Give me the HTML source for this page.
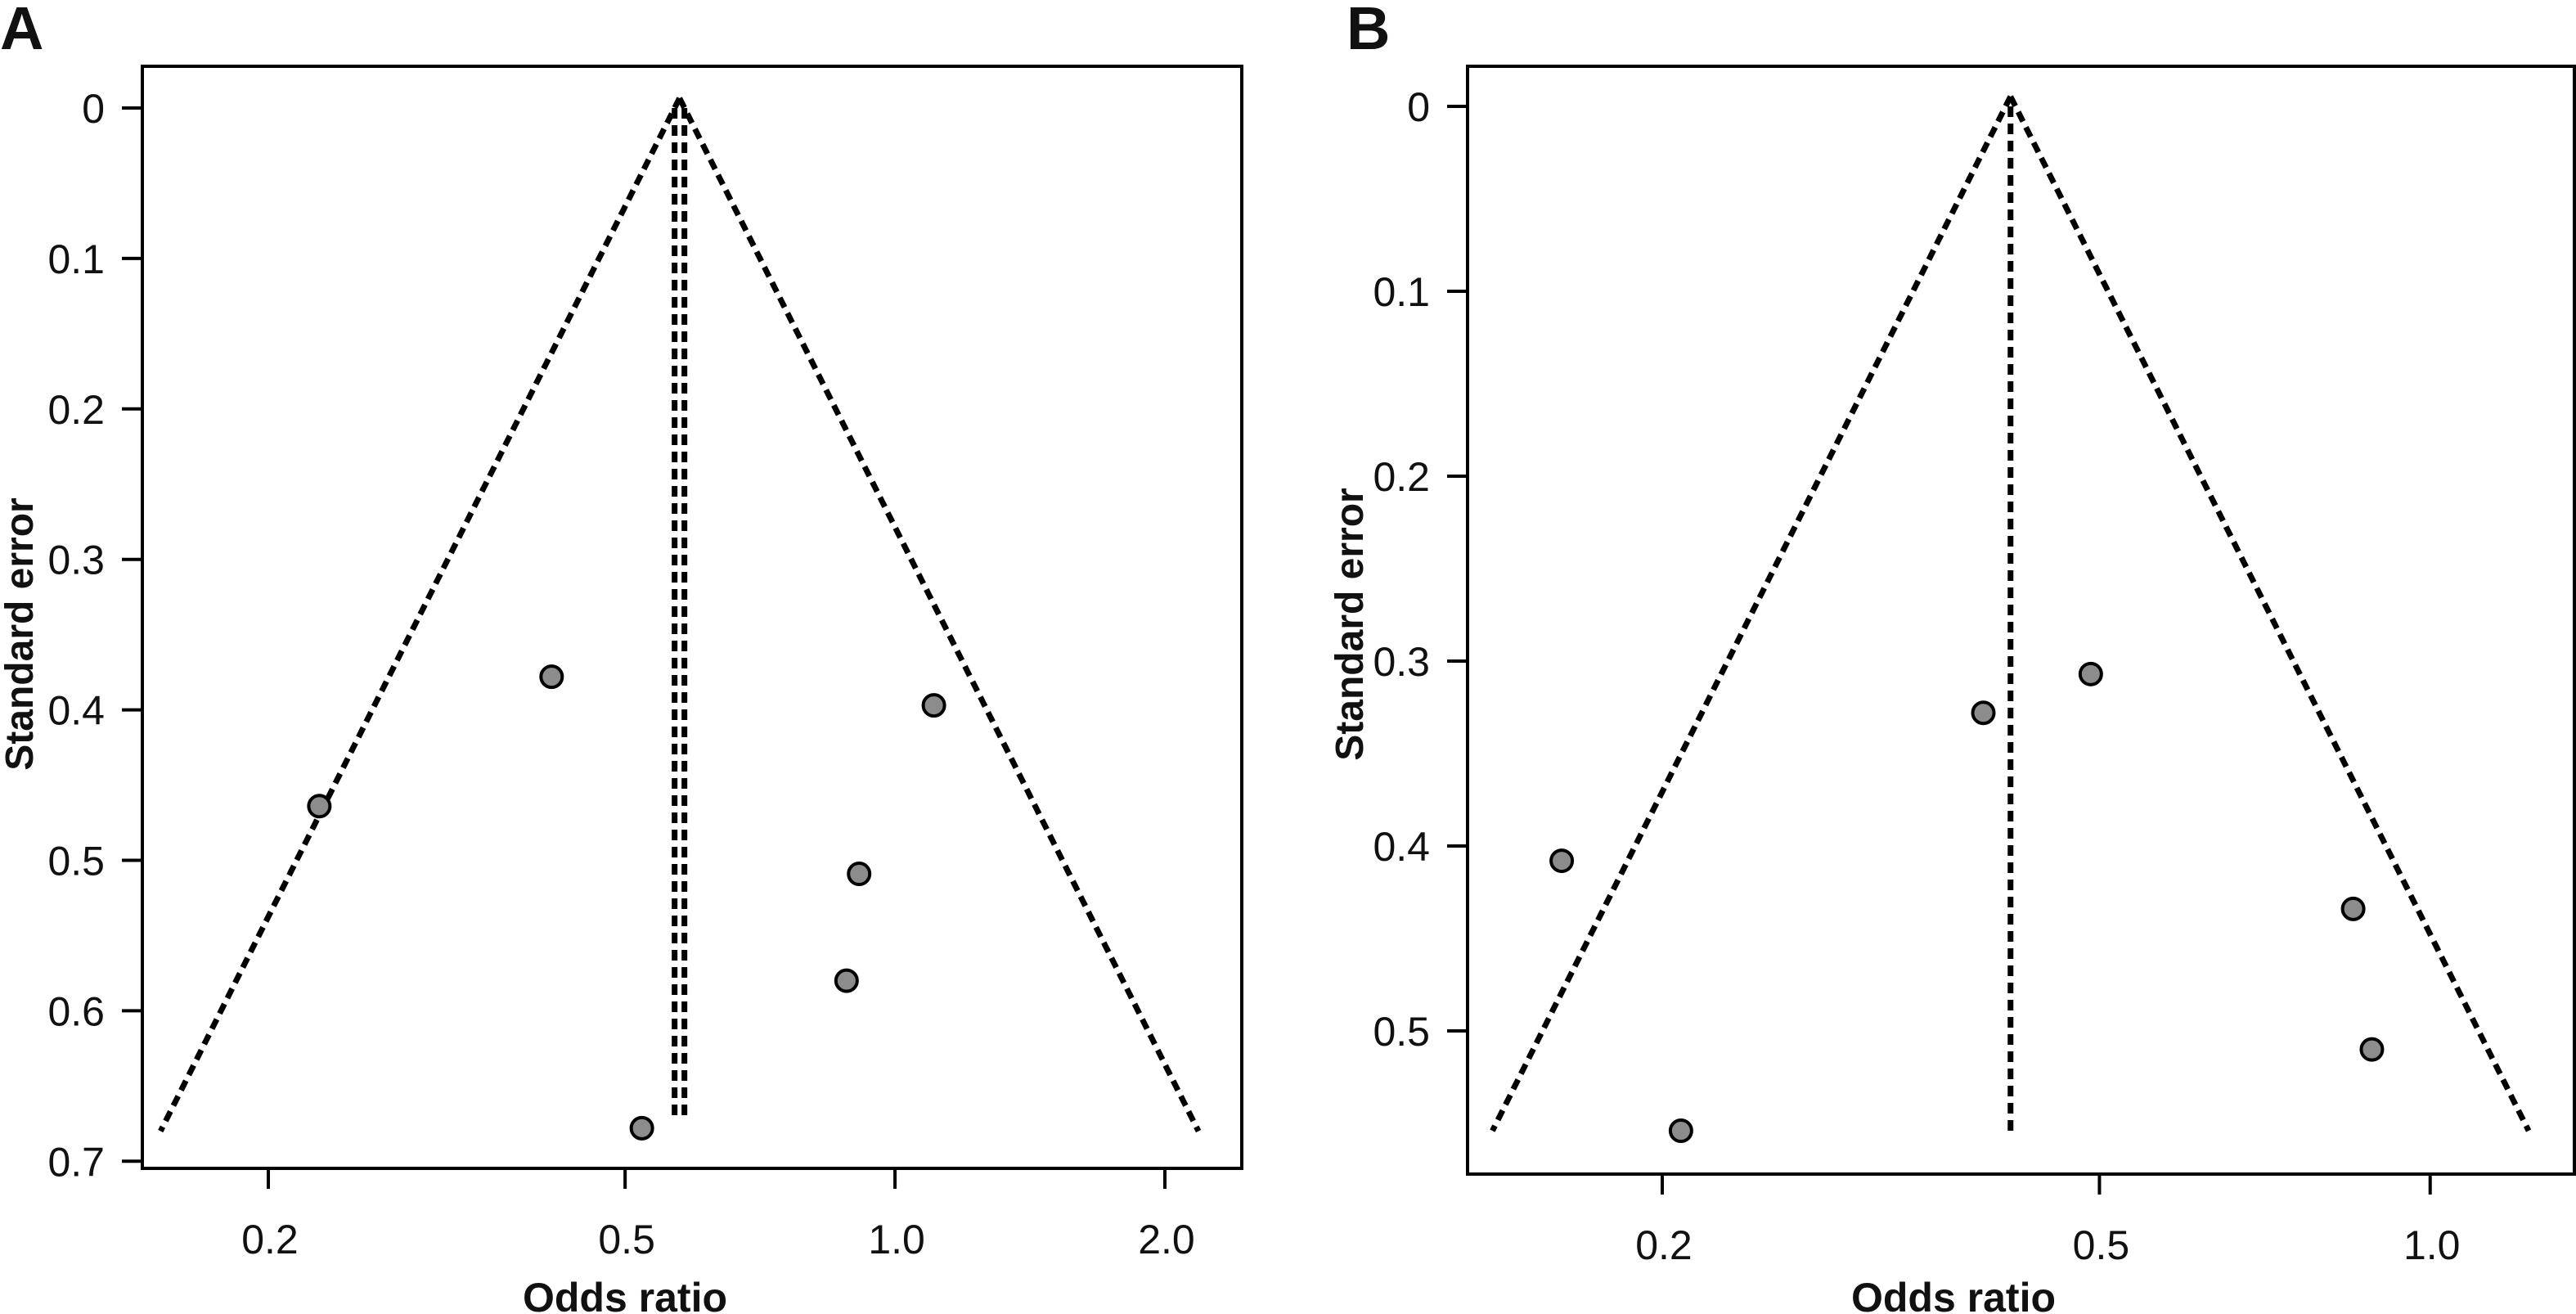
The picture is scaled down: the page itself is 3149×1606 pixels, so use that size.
<!DOCTYPE html>
<html><head><meta charset="utf-8"><style>
html,body{margin:0;padding:0;background:#fff;}
svg{display:block;font-family:"Liberation Sans",sans-serif;}
</style></head><body>
<svg id="chart" width="3149" height="1606" viewBox="0 0 3149 1606" xmlns="http://www.w3.org/2000/svg">
<rect width="3149" height="1606" fill="#fff"/>
</svg>
<script>
// Panel A data
const aOddsRatio = [0.228, 0.414, 1.105, 0.912, 0.883, 0.522];
const aStdError = [0.464, 0.378, 0.397, 0.509, 0.580, 0.678];
const aPooled = 0.575;
const aSeMax = 0.68;
const aXTicks = [0.2, 0.5, 1.0, 2.0];
const aXTickLabels = ["0.2", "0.5", "1.0", "2.0"];
const aYTicks = [0, 0.1, 0.2, 0.3, 0.4, 0.5, 0.6, 0.7];
const aYTickLabels = ["0", "0.1", "0.2", "0.3", "0.4", "0.5", "0.6", "0.7"];
// Panel B data
const bOddsRatio = [0.162, 0.392, 0.491, 0.851, 0.885, 0.208];
const bStdError = [0.408, 0.328, 0.307, 0.434, 0.510, 0.554];
const bPooled = 0.415;
const bSeMax = 0.554;
const bXTicks = [0.2, 0.5, 1.0];
const bXTickLabels = ["0.2", "0.5", "1.0"];
const bYTicks = [0, 0.1, 0.2, 0.3, 0.4, 0.5];
const bYTickLabels = ["0", "0.1", "0.2", "0.3", "0.4", "0.5"];

const NS = "http://www.w3.org/2000/svg";
const svg = document.getElementById("chart");
function mk(tag, attrs, parent) {
  const e = document.createElementNS(NS, tag);
  for (const k in attrs) e.setAttribute(k, attrs[k]);
  (parent || svg).appendChild(e);
  return e;
}

function panel(cfg) {
  const g = mk("g", {});
  
  
  const xs = v => cfg.x0 + (Math.log10(v) - Math.log10(cfg.xRef)) * cfg.decade;
  const ys = v => cfg.y0 + v * cfg.perUnit;

  const frame = mk("rect", {x: cfg.left, y: cfg.top, width: cfg.right - cfg.left, height: cfg.bottom - cfg.top, fill: "none", stroke: "#000", "stroke-width": 4}, g);
  
  

  cfg.yTicks.forEach((t, i) => {
    const y = ys(t);
    const tk = mk("line", {x1: cfg.left - 25, x2: cfg.left, y1: y, y2: y, stroke: "#000", "stroke-width": 4}, g);
    
    
    const lb = mk("text", {x: cfg.left - 46, y: y + 18, "text-anchor": "end", "font-size": 50, fill: "#111"}, g);
    lb.textContent = cfg.yLabels[i];
    
    
  });
  cfg.xTicks.forEach((t, i) => {
    const x = xs(t);
    const tk = mk("line", {x1: x, x2: x, y1: cfg.bottom, y2: cfg.bottom + 25, stroke: "#000", "stroke-width": 4}, g);
    
    
    const lb = mk("text", {x: x + 2, y: cfg.bottom + 104, "text-anchor": "middle", "font-size": 50, fill: "#111"}, g);
    lb.textContent = cfg.xLabels[i];
    
    
  });

  const lp = Math.log(cfg.pooled);
  const lo = Math.exp(lp - 1.96 * cfg.seMax), hi = Math.exp(lp + 1.96 * cfg.seMax);
  const ax = xs(cfg.pooled), ay = ys(0);
  const dash = {stroke: "#000", "stroke-width": 7, "stroke-dasharray": "13 8", fill: "none"};
  const fl = mk("line", Object.assign({x1: ax, y1: ay - 12, x2: xs(lo), y2: ys(cfg.seMax)}, dash), g);
  
  
  const fr = mk("line", Object.assign({x1: ax, y1: ay - 12, x2: xs(hi), y2: ys(cfg.seMax)}, dash), g);
  
  
  cfg.vOffsets.forEach(off => {
    const vl = mk("line", Object.assign({x1: ax + off, y1: ay, x2: ax + off, y2: ys(cfg.vEnd)}, dash), g);
    
    
  });

  cfg.or.forEach((v, i) => {
    const c = mk("circle", {cx: xs(v), cy: ys(cfg.se[i]), r: 13, fill: "#8c8c8c", stroke: "#000", "stroke-width": 4}, g);
    
    
  });

  const xt = mk("text", {x: cfg.xtX, y: 1603, "text-anchor": "middle", "font-size": 50, "font-weight": "bold", fill: "#111"}, g);
  xt.textContent = "Odds ratio";
  
  
  const yt = mk("text", {x: 0, y: 0, "text-anchor": "middle", "font-size": 48, "font-weight": "bold", fill: "#111", transform: `translate(${cfg.ytX},${cfg.ytY}) rotate(-90)`}, g);
  yt.textContent = "Standard error";
  
  
  const pl = mk("text", {x: cfg.plX, y: 60, "font-size": 74, "font-weight": "bold", fill: "#111"}, g);
  pl.textContent = cfg.letter;
  
  
}

panel({name: "panel-a", letter: "A", plX: 0, left: 174, top: 81, right: 1518, bottom: 1428,
  x0: 328, xRef: 0.2, decade: 1096, y0: 132, perUnit: 1839,
  xTicks: aXTicks, xLabels: aXTickLabels, yTicks: aYTicks, yLabels: aYTickLabels,
  or: aOddsRatio, se: aStdError, pooled: aPooled, seMax: aSeMax, vOffsets: [-6, 6], vEnd: 0.673,
  ytX: 40, ytY: 775, xtX: 764});
panel({name: "panel-b", letter: "B", plX: 1646, left: 1794, top: 81, right: 3147, bottom: 1435,
  x0: 2032, xRef: 0.2, decade: 1343, y0: 130, perUnit: 2260,
  xTicks: bXTicks, xLabels: bXTickLabels, yTicks: bYTicks, yLabels: bYTickLabels,
  or: bOddsRatio, se: bStdError, pooled: bPooled, seMax: bSeMax, vOffsets: [0], vEnd: 0.555,
  ytX: 1666, ytY: 763, xtX: 2388});
</script>
</body></html>
